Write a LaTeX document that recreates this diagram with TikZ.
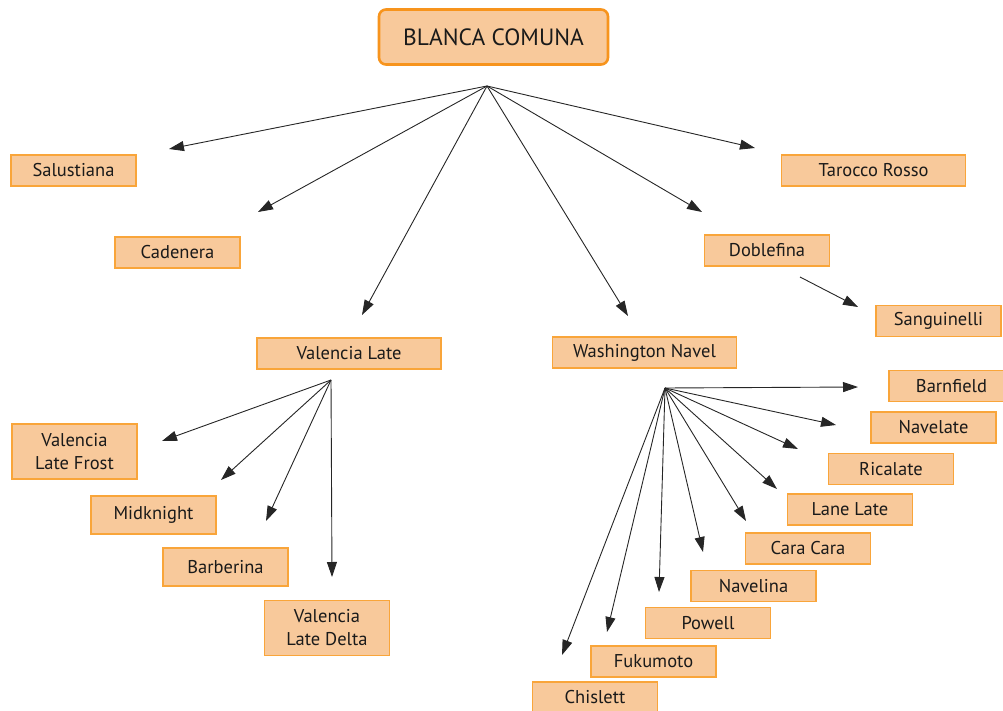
\documentclass[tikz,border=0pt]{standalone}
\usepackage{fontspec}
\setmainfont{PT Sans}
\usetikzlibrary{arrows.meta}
\definecolor{boxfill}{HTML}{F8C99B}
\definecolor{boxline}{HTML}{F9A53A}
\definecolor{rootline}{HTML}{F7941D}
\definecolor{txt}{HTML}{1A1A1A}
\tikzset{
  leaf/.style={draw=boxline, fill=boxfill, line width=1.2pt, minimum width=125pt, minimum height=31pt, inner sep=0pt, text=txt, font=\fontsize{18.5}{23}\selectfont, align=center},
  wide/.style={leaf, minimum width=184pt},
  tall/.style={leaf, minimum height=38pt},
  twoline/.style={leaf, minimum height=55pt},
  root/.style={draw=rootline, fill=boxfill, line width=2.6pt, rounded corners=7pt, minimum width=229pt, minimum height=55pt, inner sep=0pt, text=txt, font=\fontsize{23.5}{26}\selectfont},
  conn/.style={draw=black!85, line width=0.9pt, -{Triangle[length=15pt,width=10pt]}}
}
\begin{document}
\begin{tikzpicture}[x=1pt,y=-1pt]
\useasboundingbox (0,0) rectangle (1003,711);
\node[root] (root) at (493.5,37) {BLANCA COMUNA};
\node[leaf] (salu) at (73.5,170.5) {Salustiana};
\node[leaf] (cade) at (177.5,252.5) {Cadenera};
\node[wide] (taro) at (873.5,170.5) {Tarocco Rosso};
\node[leaf] (dobl) at (767,250.5) {Doblefina};
\node[leaf] (sang) at (938.5,321) {Sanguinelli};
\node[wide] (vale) at (349,353.5) {Valencia Late};
\node[wide] (wash) at (644.5,352.5) {Washington Navel};
\node[twoline] (vlf) at (74.5,451.5) {Valencia\\Late Frost};
\node[tall] (midk) at (153.5,515) {Midknight};
\node[tall] (barb) at (225.5,567) {Barberina};
\node[twoline] (vld) at (327,628) {Valencia\\Late Delta};
\node[leaf] (barn) at (951.5,386) {Barnfield};
\node[leaf] (nave) at (933.5,427.5) {Navelate};
\node[leaf] (rica) at (891,469) {Ricalate};
\node[leaf] (lane) at (850,509.5) {Lane Late};
\node[leaf] (cara) at (808,548.5) {Cara Cara};
\node[leaf] (navl) at (753.5,586) {Navelina};
\node[leaf] (powe) at (708,623) {Powell};
\node[leaf] (fuku) at (653.5,661.5) {Fukumoto};
\node[leaf] (chis) at (595,697.5) {Chislett};

\coordinate (h1) at (487,86);
\coordinate (h2) at (331,380);
\coordinate (h3) at (665,388);
\coordinate (hd) at (800,277);

\coordinate (eSalu) at (169,149);
\coordinate (eCade) at (258,212);
\coordinate (eVale) at (362,315);
\coordinate (eWash) at (628,316);
\coordinate (eDobl) at (702,212);
\coordinate (eTaro) at (755,148);
\coordinate (eSang) at (858,307);

\coordinate (eVlf) at (162,441);
\coordinate (eMidk) at (221,480);
\coordinate (eBarb) at (266,521);
\coordinate (eVld) at (332,577);

\coordinate (eBarn) at (858,387);
\coordinate (eNave) at (836,425);
\coordinate (eRica) at (798,449);
\coordinate (eLane) at (777,489);
\coordinate (eCara) at (746,521);
\coordinate (eNavl) at (703,552);
\coordinate (ePowe) at (659,592);
\coordinate (eFuku) at (607,632);
\coordinate (eChis) at (562,655);

\foreach \e in {eSalu,eCade,eVale,eWash,eDobl,eTaro} \draw[conn] (h1) -- (\e);
\draw[conn] (hd) -- (eSang);
\foreach \e in {eVlf,eMidk,eBarb,eVld} \draw[conn] (h2) -- (\e);
\foreach \e in {eBarn,eNave,eRica,eLane,eCara,eNavl,ePowe,eFuku,eChis} \draw[conn] (h3) -- (\e);
\end{tikzpicture}
\end{document}
